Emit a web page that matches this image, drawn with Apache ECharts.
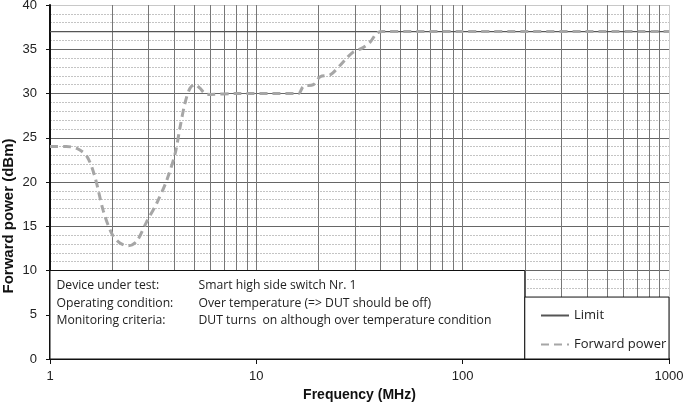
<!DOCTYPE html>
<html><head><meta charset="utf-8">
<script src="https://cdn.jsdelivr.net/npm/echarts@6/dist/echarts.min.js"></script>
<style>html,body{margin:0;padding:0;background:#fff}#c{width:685px;height:404px}</style>
</head><body><div id="c"></div>
<script>
// Forward power curve (MHz, dBm)
const powerFreq = [1, 1.2, 1.35, 1.51, 1.65, 1.81, 1.99, 2.18, 2.4, 2.63, 2.94, 3.29, 3.68, 4.04, 4.27, 4.51, 4.77, 5.05, 5.33, 5.64, 5.97, 8, 12, 16.0, 16.9, 18.9, 20.4, 22.8, 25.5, 27.4, 29.5, 32.4, 35.6, 38.3, 41, 100, 1000];
const powerVal  = [24, 24, 23.8, 22.9, 20.6, 16.8, 14.2, 13.1, 12.8, 13.3, 15.5, 17.6, 20.2, 23.2, 26.2, 28.9, 30.6, 31.0, 30.6, 30.0, 29.9, 30, 30, 30, 30.8, 31.0, 31.9, 32.1, 33.2, 34.0, 34.7, 35.1, 35.8, 36.8, 37, 37, 37];
// Limit line
const limitFreq = [1, 1000];
const limitVal = [37, 37];
// Vertical grid lines (log sub-decades)
const vGrid = [2,3,4,5,6,7,8,9,20,30,40,50,60,70,80,90,200,300,400,500,600,700,800,900];
// Info box
const infoLabels = ['Device under test:', 'Operating condition:', 'Monitoring criteria:'];
const infoValues = ['Smart high side switch Nr. 1', 'Over temperature (=> DUT should be off)', 'DUT turns  on although over temperature condition'];
const infoBox = [[1, 0], [200, 10]];
const legendBox = [[200, 0], [1000, 7]];
const yTitle = 'Forward power (dBm)';

const chart = echarts.init(document.getElementById('c'));
const infoText = infoLabels.map((l, i) => '{a|' + l + '}{b|' + infoValues[i] + '}').join('\n');
const xs = (f, v) => f.map((x, i) => [x, v[i]]);

chart.setOption({
  animation: false,
  grid: {left: 50, right: 16, top: 5, bottom: 45, outerBoundsMode: 'none', containLabel: false},
  textStyle: {fontFamily: 'Liberation Sans, Arial, sans-serif'},
  graphic: [{
    type: 'text', x: 9, y: 216, rotation: Math.PI / 2, z: 50,
    style: {text: yTitle, align: 'center', verticalAlign: 'middle',
      font: 'bold 15px "Liberation Sans", Arial, sans-serif', fill: '#111'}
  }],
  xAxis: {
    type: 'log', logBase: 10, min: 1, max: 1000,
    name: 'Frequency (MHz)', nameLocation: 'middle', nameGap: 27,
    nameTextStyle: {fontWeight: 'bold', fontSize: 14, color: '#111', fontFamily: 'Liberation Sans'},
    axisLine: {lineStyle: {color: '#111', width: 2}},
    axisTick: {show: true, length: 5, lineStyle: {color: '#111'}},
    axisLabel: {color: '#222', fontSize: 13, margin: 11, fontFamily: 'Liberation Sans', formatter: v => String(v)},
    splitLine: {show: true, lineStyle: {color: ['#777', '#777', '#777', '#ccc'], width: 1}}
  },
  yAxis: {
    type: 'value', min: 0, max: 40, interval: 5,
    axisLine: {show: true, lineStyle: {color: '#111', width: 2}},
    axisTick: {show: true, length: 4, lineStyle: {color: '#111'}},
    axisLabel: {color: '#222', fontSize: 13, margin: 13, fontFamily: 'Liberation Sans'},
    minorTick: {show: false, splitNumber: 5},
    minorSplitLine: {show: true, lineStyle: {color: '#c4c4c4', type: [2, 1], width: 1}},
    splitLine: {show: true, lineStyle: {color: ['#666','#666','#666','#666','#666','#666','#666','#666','#c8c8c8'], width: 1}}
  },
  legend: {
    data: ['Limit', 'Forward power'],
    orient: 'vertical', left: 535, top: 304, z: 30,
    itemWidth: 28, itemHeight: 14, itemGap: 16,
    itemStyle: {opacity: 0},
    textStyle: {fontFamily: 'Open Sans', fontSize: 13, color: '#222'}
  },
  series: [
    {
      name: 'vgrid', type: 'line', z: 1, data: [[1, 0]], symbol: 'none', silent: true,
      lineStyle: {opacity: 0},
      markLine: {
        silent: true, symbol: 'none', label: {show: false}, animation: false, z: 1,
        lineStyle: {color: '#777', type: 'solid', width: 1},
        data: vGrid.map(v => ({xAxis: v}))
      }
    },
    {
      name: 'boxes', type: 'line', z: 3, data: [[1, 0]], symbol: 'none', silent: true,
      lineStyle: {opacity: 0},
      markArea: {
        silent: true, animation: false, z: 10,
        itemStyle: {color: '#fff', borderColor: '#111', borderWidth: 1, opacity: 1},
        data: [
          [{coord: infoBox[0], label: {
              show: true, position: 'insideTopLeft', distance: 7,
              formatter: infoText,
              rich: {
                a: {fontFamily: 'Open Sans', fontSize: 12.2, color: '#222', width: 142, lineHeight: 17.5},
                b: {fontFamily: 'Open Sans', fontSize: 12.2, color: '#222', lineHeight: 17.5}
              }
            }}, {coord: infoBox[1]}],
          [{coord: legendBox[0], label: {show: false}}, {coord: legendBox[1]}]
        ]
      }
    },
    {
      name: 'Limit', type: 'line', z: 4, data: xs(limitFreq, limitVal),
      symbol: 'none', color: '#555',
      lineStyle: {color: '#555', width: 1.2}
    },
    {
      name: 'Forward power', type: 'line', z: 5, data: xs(powerFreq, powerVal),
      symbol: 'none', smooth: 0.3, color: '#a6a6a6',
      lineStyle: {color: '#a6a6a6', width: 3, type: [8, 5]}
    }
  ]
});
</script></body></html>
